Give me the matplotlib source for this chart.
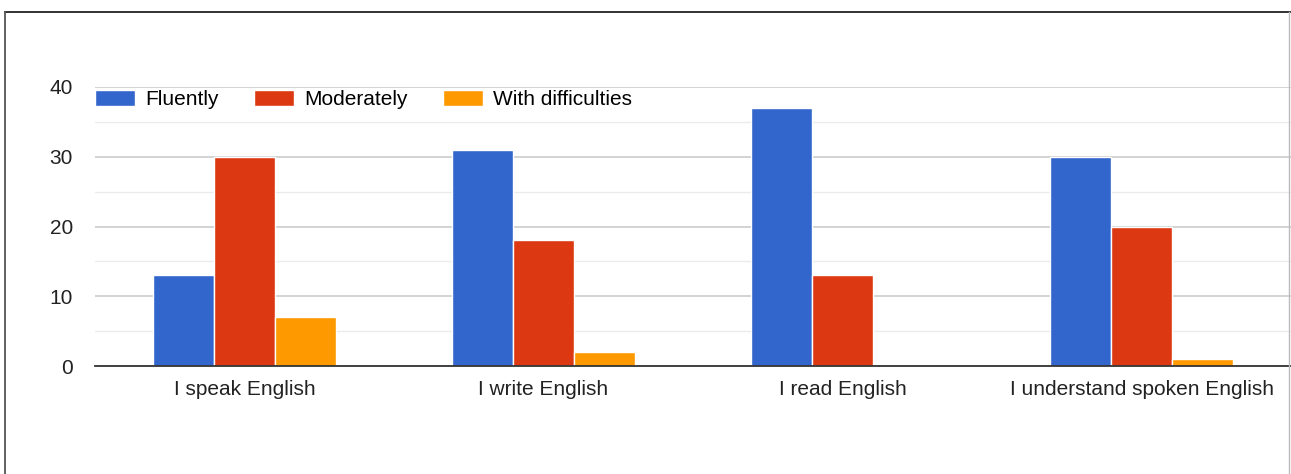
import numpy as np
import matplotlib.pyplot as plt
from matplotlib.lines import Line2D
from matplotlib.ticker import MultipleLocator

plt.rcParams['font.family'] = ['Liberation Sans', 'DejaVu Sans']

categories = ['I speak English', 'I write English', 'I read English',
              'I understand spoken English']
series_names = ['Fluently', 'Moderately', 'With difficulties']
fluently = [13, 31, 37, 30]
moderately = [30, 18, 13, 20]
difficulties = [7, 2, 0, 1]
colors = ['#3366cc', '#dc3912', '#ff9900']

fig = plt.figure(figsize=(12.91, 4.74), dpi=100)
ax = fig.add_axes([95 / 1291, 1 - 366 / 474, 1 - 95 / 1291, (366 - 87) / 474])

x = np.arange(len(categories))
w = 0.205
for k, (vals, name) in enumerate(zip([fluently, moderately, difficulties], series_names)):
    ax.bar(x + (k - 1) * w, vals, width=w, color=colors[k], label=name,
           edgecolor='white', linewidth=1.0, zorder=3)

ax.set_xlim(-0.5, 3.5)
ax.set_ylim(0, 40)
ax.yaxis.set_major_locator(MultipleLocator(10))
ax.yaxis.set_minor_locator(MultipleLocator(5))
ax.grid(axis='y', which='major', color='#cccccc', linewidth=1.2, zorder=0)
ax.grid(axis='y', which='minor', color='#ebebeb', linewidth=1.0, zorder=0)
ax.set_axisbelow(True)

for s in ['top', 'right', 'left']:
    ax.spines[s].set_visible(False)
ax.spines['bottom'].set_color('#333333')
ax.spines['bottom'].set_linewidth(1.3)
ax.spines['bottom'].set_zorder(4)

ax.set_xticks(x)
ax.set_xticklabels(categories)
ax.tick_params(axis='both', which='both', length=0, labelsize=15, colors='#222222')
ax.tick_params(axis='x', pad=10)
ax.tick_params(axis='y', pad=16)

ax.legend(loc='upper left', bbox_to_anchor=(0, 0.99), ncol=3, frameon=False,
          fontsize=15, handlelength=1.92, handleheight=0.82, handletextpad=0.48,
          columnspacing=1.7, borderaxespad=0.0, borderpad=0.0)

# outer frame
fig.add_artist(Line2D([5 / 1291, 1], [1 - 12 / 474] * 2, color='#222222', linewidth=1.3))
fig.add_artist(Line2D([5 / 1291] * 2, [0, 1 - 12 / 474], color='#555555', linewidth=1.3))
fig.add_artist(Line2D([1289 / 1291] * 2, [0, 1 - 12 / 474], color='#bbbbbb', linewidth=1.0))

fig.savefig('out.png', dpi=100)
